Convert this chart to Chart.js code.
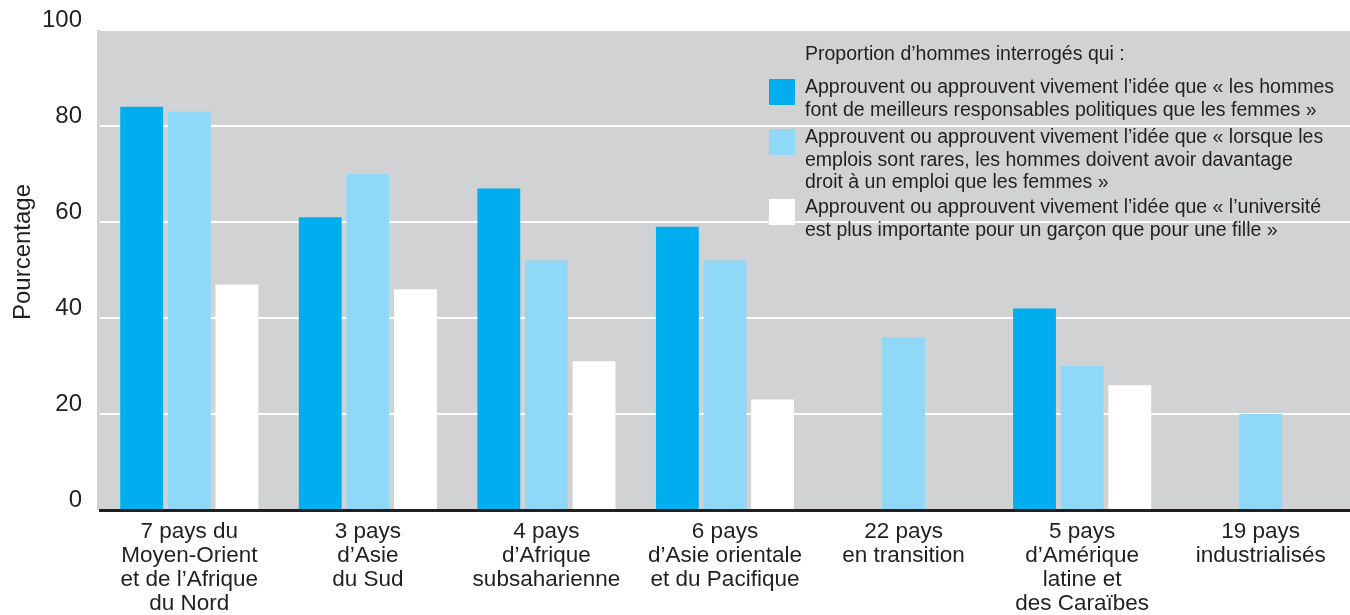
<!DOCTYPE html>
<html>
<head>
<meta charset="utf-8">
<script src="https://cdn.jsdelivr.net/npm/chart.js@4/dist/chart.umd.min.js"></script>
<style>
  body { margin: 0; background: #fff; }
  #wrap { width: 1350px; height: 615px; }
</style>
</head>
<body>
<div id="wrap"><canvas id="menChart"></canvas></div>
<script>
// Regions (x axis labels, one array per line break)
const regions = [
    ['7 pays du', 'Moyen-Orient', 'et de l’Afrique', 'du Nord'],
    ['3 pays', 'd’Asie', 'du Sud'],
    ['4 pays', 'd’Afrique', 'subsaharienne'],
    ['6 pays', 'd’Asie orientale', 'et du Pacifique'],
    ['22 pays', 'en transition'],
    ['5 pays', 'd’Amérique', 'latine et', 'des Caraïbes'],
    ['19 pays', 'industrialisés']
];

// Pourcentage des hommes qui approuvent
const politicsValues = [84, 61, 67, 59, null, 42, null];
const jobsValues = [83, 70, 52, 52, 36, 30, 20];
const universityValues = [47, 46, 31, 23, null, 26, null];

const yTicks = [0, 20, 40, 60, 80, 100];
const yTitle = 'Pourcentage';

const legendTitle = 'Proportion d’hommes interrogés qui :';
const seriesLabels = [
    ['Approuvent ou approuvent vivement l’idée que « les hommes', 'font de meilleurs responsables politiques que les femmes »'],
    ['Approuvent ou approuvent vivement l’idée que « lorsque les', 'emplois sont rares, les hommes doivent avoir davantage', 'droit à un emploi que les femmes »'],
    ['Approuvent ou approuvent vivement l’idée que « l’université', 'est plus importante pour un garçon que pour une fille »']
];

const textColor = '#231f20';
const fontFamily = '"Liberation Sans", Arial, sans-serif';

// fond gris de la zone du graphique + titre de l'axe Y
const plotBackground = {
    id: 'plotBackground',
    beforeDraw(chart) {
        const { ctx, chartArea: a } = chart;
        ctx.save();
        ctx.fillStyle = '#d1d2d4';
        ctx.fillRect(a.left - 3, a.top, a.right - a.left + 3, a.bottom - a.top);
        ctx.restore();
    },
    afterDraw(chart) {
        const ctx = chart.ctx;
        ctx.save();
        ctx.translate(23, 252);
        ctx.rotate(-Math.PI / 2);
        ctx.font = '24px ' + fontFamily;
        ctx.fillStyle = textColor;
        ctx.textAlign = 'center';
        ctx.textBaseline = 'middle';
        ctx.fillText(yTitle, 0, 0);
        ctx.restore();
    }
};

// légende à plusieurs lignes, dessinée dans la zone du graphique
const multiLineLegend = {
    id: 'multiLineLegend',
    afterDatasetsDraw(chart) {
        const ctx = chart.ctx;
        const boxX = 769, textX = 805, lineH = 22.5, box = 26;
        ctx.save();
        ctx.font = '19.5px ' + fontFamily;
        ctx.fillStyle = textColor;
        ctx.textBaseline = 'middle';
        ctx.textAlign = 'left';
        ctx.fillText(legendTitle, textX, 55);
        const tops = [79, 129, 199];
        chart.data.datasets.forEach((ds, i) => {
            const top = tops[i];
            ctx.fillStyle = ds.backgroundColor;
            ctx.fillRect(boxX, top, box, box);
            ctx.fillStyle = textColor;
            seriesLabels[i].forEach((line, j) => {
                ctx.fillText(line, textX, top + 9 + j * lineH);
            });
        });
        ctx.restore();
    }
};

const ctx = document.getElementById('menChart').getContext('2d');
new Chart(ctx, {
    type: 'bar',
    data: {
        labels: regions,
        datasets: [{
            label: seriesLabels[0].join(' '),
            data: politicsValues,
            backgroundColor: '#00aeef'
        }, {
            label: seriesLabels[1].join(' '),
            data: jobsValues,
            backgroundColor: '#8fd8f7'
        }, {
            label: seriesLabels[2].join(' '),
            data: universityValues,
            backgroundColor: '#ffffff'
        }]
    },
    options: {
        responsive: true,
        maintainAspectRatio: false,
        animation: false,
        layout: { padding: { top: 30, right: -2, left: 0, bottom: 0 } },
        datasets: {
            bar: {
                categoryPercentage: 0.8,
                barPercentage: 0.9,
                borderWidth: 0
            }
        },
        plugins: {
            legend: { display: false },
            tooltip: { enabled: false }
        },
        scales: {
            x: {
                grid: { display: false },
                border: { display: true, color: textColor, width: 3 },
                ticks: {
                    color: textColor,
                    padding: 2,
                    maxRotation: 0,
                    autoSkip: false,
                    font: { family: fontFamily, size: 22.5, lineHeight: 24 / 22.5 }
                },
                afterFit(scale) { scale.height = 105; }
            },
            y: {
                min: 0,
                max: 100,
                afterBuildTicks(scale) { scale.ticks = yTicks.map(v => ({ value: v })); },
                grid: { color: '#ffffff', lineWidth: 2, drawTicks: false },
                border: { display: false },
                ticks: {
                    color: textColor,
                    padding: 18,
                    labelOffset: -10,
                    font: { family: fontFamily, size: 24 }
                },
                afterFit(scale) {
                    scale.width = 100;
                    scale.paddingTop = 0;
                    scale.paddingBottom = 0;
                }
            }
        }
    },
    plugins: [plotBackground, multiLineLegend]
});
</script>
</body>
</html>
